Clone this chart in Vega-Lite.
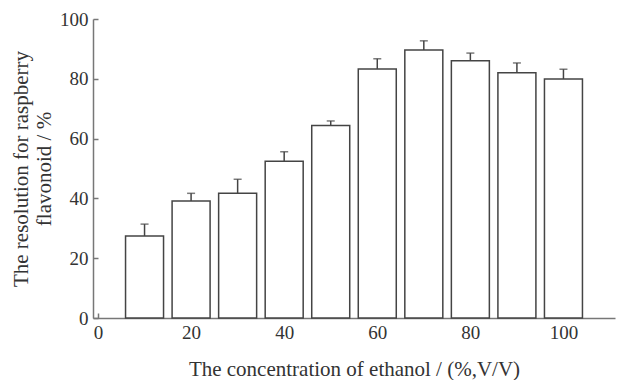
{
  "$schema": "https://vega.github.io/schema/vega-lite/v6.json",
  "width": 522,
  "height": 299,
  "autosize": "none",
  "padding": {"left": 93, "top": 19, "right": 14, "bottom": 62},
  "background": "white",
  "config": {
    "view": {"stroke": null},
    "font": "Liberation Serif",
    "axis": {
      "labelFont": "Liberation Serif",
      "titleFont": "Liberation Serif",
      "labelFontSize": 19,
      "titleFontSize": 21,
      "titleLineHeight": 23,
      "titleFontWeight": "normal",
      "labelColor": "#333",
      "titleColor": "#333",
      "domainColor": "#777",
      "domainWidth": 1.5,
      "tickColor": "#777",
      "tickWidth": 1.5,
      "grid": false
    }
  },
  "data": {
    "values": [
      {"c": 10, "r": 27.4, "u": 31.4},
      {"c": 20, "r": 39.1, "u": 41.7},
      {"c": 30, "r": 41.7, "u": 46.4},
      {"c": 40, "r": 52.4, "u": 55.6},
      {"c": 50, "r": 64.4, "u": 65.9},
      {"c": 60, "r": 83.3, "u": 86.7},
      {"c": 70, "r": 89.6, "u": 92.7},
      {"c": 80, "r": 86.0, "u": 88.6},
      {"c": 90, "r": 82.0, "u": 85.3},
      {"c": 100, "r": 79.9, "u": 83.2}
    ]
  },
  "layer": [
    {
      "mark": {"type": "rule", "color": "#444", "strokeWidth": 1.5},
      "encoding": {
        "x": {"field": "c", "type": "quantitative"},
        "y": {"field": "r", "type": "quantitative"},
        "y2": {"field": "u"}
      }
    },
    {
      "mark": {"type": "tick", "orient": "horizontal", "color": "#444", "size": 8, "thickness": 1.5},
      "encoding": {
        "x": {"field": "c", "type": "quantitative"},
        "y": {"field": "u", "type": "quantitative"}
      }
    },
    {
      "mark": {"type": "bar", "fill": "white", "stroke": "#444", "strokeWidth": 1.5, "width": 38},
      "encoding": {
        "x": {
          "field": "c",
          "type": "quantitative",
          "scale": {"domain": [0, 110], "nice": false},
          "axis": {
            "values": [0, 20, 40, 60, 80, 100],
            "tickSize": -5,
            "labelPadding": 10,
            "title": "The concentration of ethanol / (%,V/V)",
            "titlePadding": 16
          }
        },
        "y": {
          "field": "r",
          "type": "quantitative",
          "scale": {"domain": [0, 100], "nice": false},
          "axis": {
            "values": [0, 20, 40, 60, 80, 100],
            "tickSize": -5,
            "labelPadding": 10,
            "title": ["The resolution for raspberry", "flavonoid / %"],
            "titlePadding": 5
          }
        }
      }
    }
  ]
}
